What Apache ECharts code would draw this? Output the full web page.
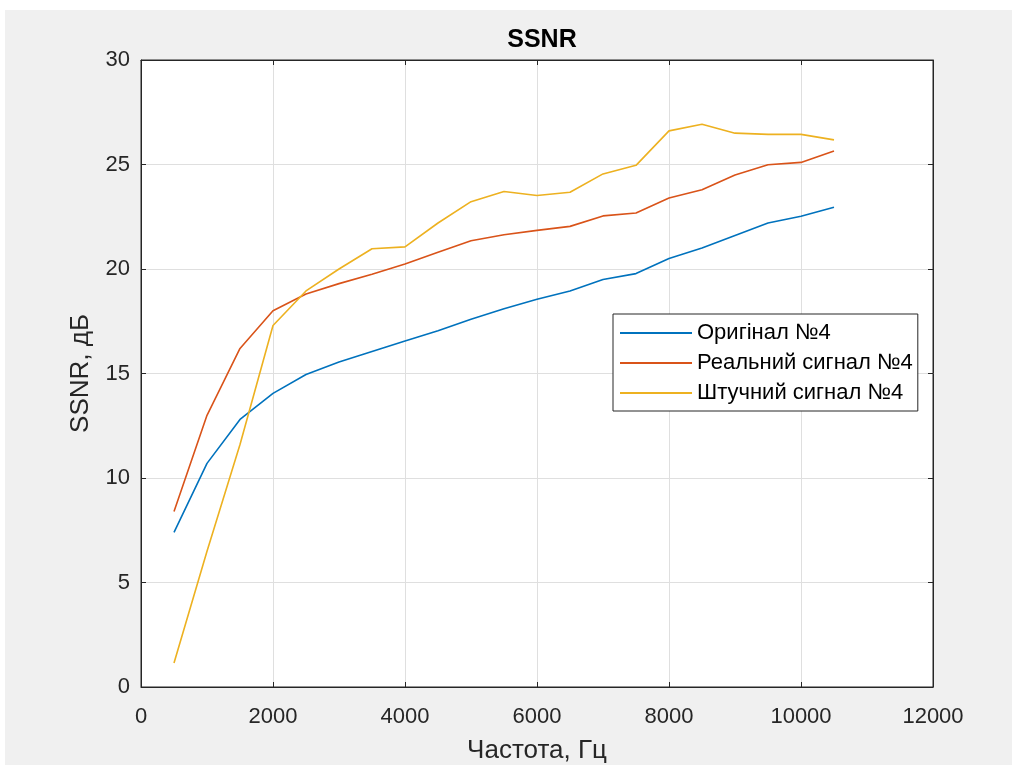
<!DOCTYPE html>
<html>
<head>
<meta charset="utf-8">
<script src="https://cdn.jsdelivr.net/npm/echarts@6/dist/echarts.min.js"></script>
<style>
html,body{margin:0;padding:0;background:#ffffff;width:1012px;height:766px;overflow:hidden;}
#chart{position:absolute;left:5px;top:10px;width:1007px;height:755px;background:#f0f0f0;}
</style>
</head>
<body>
<div id="chart"></div>
<script>
const freqs = [500,1000,1500,2000,2500,3000,3500,4000,4500,5000,5500,6000,6500,7000,7500,8000,8500,9000,9500,10000,10500];
const original = [7.4,10.7,12.8,14.05,14.95,15.55,16.05,16.55,17.05,17.6,18.1,18.55,18.95,19.5,19.78,20.5,21.0,21.6,22.2,22.52,22.95];
const realSignal = [8.4,13.0,16.2,18.0,18.8,19.3,19.75,20.24,20.8,21.35,21.64,21.85,22.04,22.54,22.68,23.4,23.79,24.5,24.99,25.1,25.65];
const artificial = [1.15,6.5,11.6,17.3,18.95,20.0,20.97,21.06,22.2,23.22,23.71,23.52,23.67,24.55,24.96,26.61,26.93,26.5,26.44,26.44,26.18];
const seriesNames = ['Оригінал №4','Реальний сигнал №4','Штучний сигнал №4'];
const xTicks = {min:0,max:12000,interval:2000};
const yTicks = {min:0,max:30,interval:5};

const FONT = '"Liberation Sans", Arial, Helvetica, sans-serif';
const DARK = '#262626';
const colors = ['#0072BD','#D95319','#EDB120'];
const pair = vals => freqs.map((f,i)=>[f,vals[i]]);

const chart = echarts.init(document.getElementById('chart'), null, {renderer:'canvas'});
function frameAxis(pos){
  const t = pos==='top' ? xTicks : yTicks;
  return {
    type:'value', position:pos, show:true,
    min:t.min, max:t.max, interval:t.interval,
    axisLine:{show:true,onZero:false,lineStyle:{color:DARK,width:1}},
    axisTick:{show:true,inside:true,length:5,lineStyle:{color:DARK,width:1}},
    axisLabel:{show:false},
    splitLine:{show:false}
  };
}
chart.setOption({
  animation:false,
  backgroundColor:'#f0f0f0',
  textStyle:{fontFamily:FONT},
  title:{
    text:'SSNR', left:532, top:13, textAlign:'center',
    textStyle:{fontFamily:FONT,fontSize:25,fontWeight:'bold',color:'#000'}
  },
  grid:{left:136,right:79,top:50,bottom:78,show:true,backgroundColor:'#ffffff',borderWidth:1,borderColor:DARK,outerBoundsMode:'none'},
  legend:{
    orient:'vertical', left:608, top:304,
    backgroundColor:'#ffffff', borderColor:DARK, borderWidth:1, borderRadius:0,
    padding:[8,5,7,7], itemWidth:72, itemHeight:2, itemGap:8, icon:'rect',
    textStyle:{fontFamily:FONT,fontSize:22,color:'#000'},
    data:seriesNames
  },
  xAxis:[{
    type:'value', min:xTicks.min, max:xTicks.max, interval:xTicks.interval, position:'bottom',
    name:'Частота, Гц', nameLocation:'middle', nameGap:51,
    nameTextStyle:{fontFamily:FONT,fontSize:26,color:DARK},
    axisLine:{show:true,onZero:false,lineStyle:{color:DARK,width:1}},
    axisTick:{show:true,inside:true,length:5,lineStyle:{color:DARK,width:1}},
    axisLabel:{fontFamily:FONT,fontSize:22,color:DARK,margin:19,formatter:v=>String(v)},
    splitLine:{show:true,lineStyle:{color:'#dfdfdf',width:1}}
  }, frameAxis('top')],
  yAxis:[{
    type:'value', min:yTicks.min, max:yTicks.max, interval:yTicks.interval, position:'left',
    name:'SSNR, дБ', nameLocation:'middle', nameGap:47,
    nameTextStyle:{fontFamily:FONT,fontSize:26,color:DARK},
    axisLine:{show:true,onZero:false,lineStyle:{color:DARK,width:1}},
    axisTick:{show:true,inside:true,length:5,lineStyle:{color:DARK,width:1}},
    axisLabel:{fontFamily:FONT,fontSize:22,color:DARK,margin:11,formatter:v=>String(v)},
    splitLine:{show:true,lineStyle:{color:'#dfdfdf',width:1}}
  }, frameAxis('right')],
  series:[
    {name:seriesNames[0],type:'line',data:pair(original),symbol:'none',color:colors[0],lineStyle:{width:1.6,color:colors[0]}},
    {name:seriesNames[1],type:'line',data:pair(realSignal),symbol:'none',color:colors[1],lineStyle:{width:1.6,color:colors[1]}},
    {name:seriesNames[2],type:'line',data:pair(artificial),symbol:'none',color:colors[2],lineStyle:{width:1.6,color:colors[2]}}
  ]
});
</script>
</body>
</html>
